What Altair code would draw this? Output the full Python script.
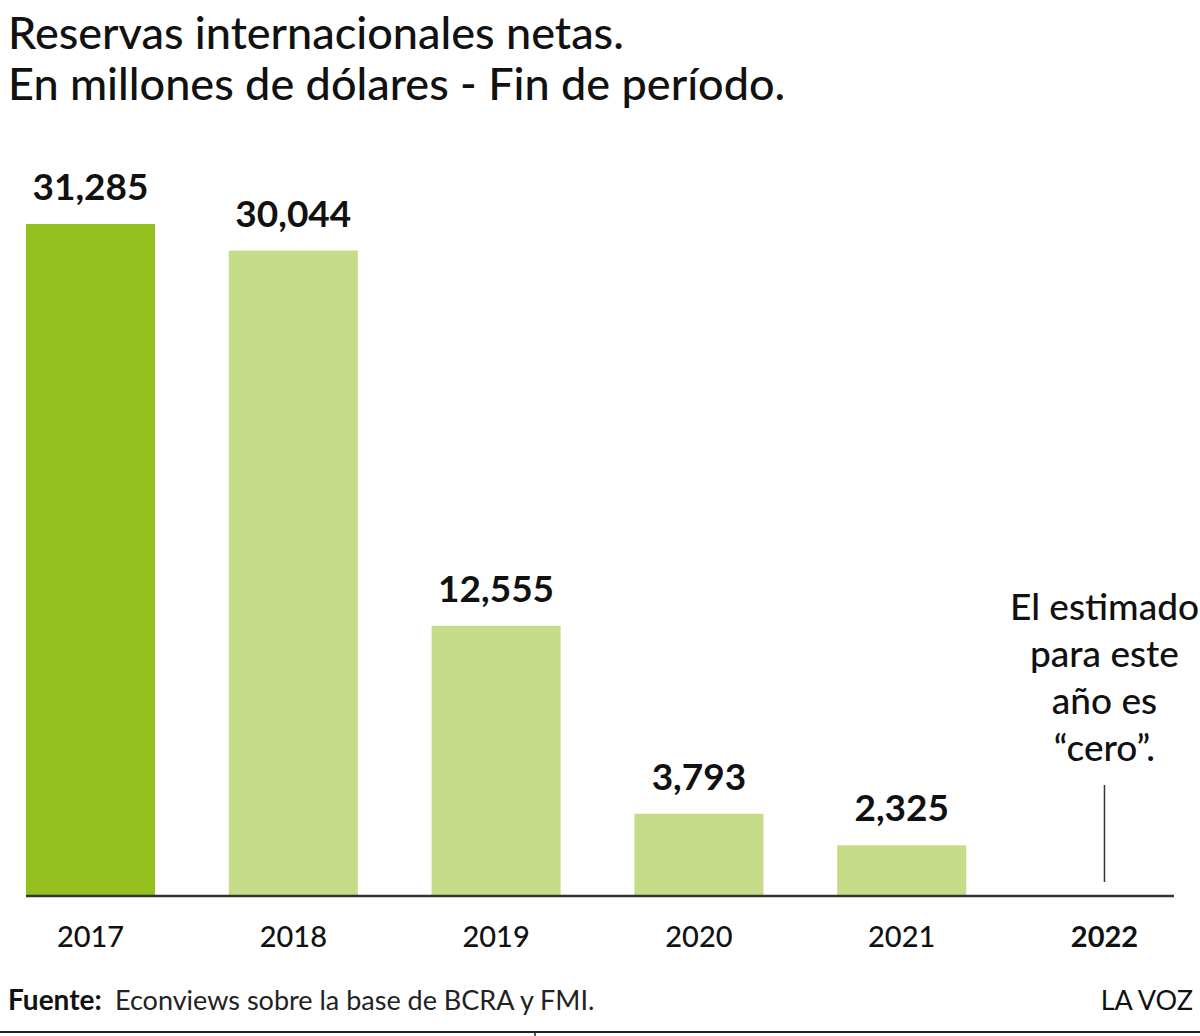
import altair as alt
import pandas as pd

# Net international reserves, millions of US dollars, end of period
years = ["2017", "2018", "2019", "2020", "2021", "2022"]
reserves = [31285, 30044, 12555, 3793, 2325]

title_text = "Reservas internacionales netas.\nEn millones de dólares - Fin de período."
note_text = "El estimado\npara este\naño es\n“cero”."
source_label = "Fuente:"
source_text = "Econviews sobre la base de BCRA y FMI."
brand = "LA VOZ"

W, H = 1143, 745
FONT = "Lato"
DARK_GREEN = "#95c11f"
LIGHT_GREEN = "#c6dc89"
INK = "#111111"

bars_df = pd.DataFrame({"year": years[:5], "value": reserves})
labels_df = pd.DataFrame({"year": years[:5]})
last_df = pd.DataFrame({"year": [years[5]], "note": [note_text]})
one = pd.DataFrame({"k": [0]})

x_enc = alt.X(
    "year:N",
    scale=alt.Scale(domain=years, paddingInner=0.3636, paddingOuter=0),
    axis=None,
)
y_enc = alt.Y("value:Q", scale=alt.Scale(domain=[0, 34735], nice=False), axis=None)

bars = alt.Chart(bars_df).mark_bar().encode(
    x=x_enc,
    y=y_enc,
    color=alt.condition(alt.datum.year == "2017", alt.value(DARK_GREEN), alt.value(LIGHT_GREEN)),
)

values = alt.Chart(bars_df).mark_text(
    font=FONT, fontWeight="bold", fontSize=37, baseline="alphabetic", dy=-24, color=INK
).encode(x=x_enc, y=y_enc, text=alt.Text("value:Q", format=","))

baseline = alt.Chart(one).mark_rule(color="#333333", strokeWidth=2.5).encode(
    x=alt.value(0), x2=alt.value(1148), y=alt.value(H + 1)
)

year_labels = alt.Chart(labels_df).mark_text(
    font=FONT, fontSize=29, fontWeight=500, baseline="alphabetic", color=INK
).encode(x=x_enc, y=alt.value(797), text="year:N")

last_label = alt.Chart(last_df).mark_text(
    font=FONT, fontSize=29, fontWeight="bold", baseline="alphabetic", color=INK
).encode(x=x_enc, y=alt.value(797), text="year:N")

note = alt.Chart(last_df).mark_text(
    font=FONT, fontSize=37, fontWeight=500, baseline="alphabetic",
    lineBreak="\n", lineHeight=47, color=INK,
).encode(x=x_enc, y=alt.value(470), text="note:N")

note_rule = alt.Chart(last_df).mark_rule(color="#333333", strokeWidth=1.5).encode(
    x=x_enc, y=alt.value(635), y2=alt.value(732)
)

title = alt.Chart(one).mark_text(
    font=FONT, fontSize=45, fontWeight=500, align="left", baseline="alphabetic",
    lineBreak="\n", lineHeight=51, color=INK,
).encode(x=alt.value(-18), y=alt.value(-101), text=alt.value(title_text))

source_bold = alt.Chart(one).mark_text(
    font=FONT, fontSize=28, fontWeight="bold", align="left", baseline="alphabetic", color=INK
).encode(x=alt.value(-18), y=alt.value(860), text=alt.value(source_label))

source_rest = alt.Chart(one).mark_text(
    font=FONT, fontSize=27, align="left", baseline="alphabetic", color="#222222"
).encode(x=alt.value(89), y=alt.value(860), text=alt.value(source_text))

brand_text = alt.Chart(one).mark_text(
    font=FONT, fontSize=27, align="right", baseline="alphabetic", color=INK
).encode(x=alt.value(1167), y=alt.value(860), text=alt.value(brand))

bottom_rule = alt.Chart(one).mark_rule(color="#222222", strokeWidth=2).encode(
    x=alt.value(-26), x2=alt.value(1174), y=alt.value(882)
)
bottom_tick = alt.Chart(one).mark_rule(color="#222222", strokeWidth=1.5).encode(
    x=alt.value(509), y=alt.value(882), y2=alt.value(886)
)

chart = alt.layer(
    bars, values, baseline, year_labels, last_label, note, note_rule,
    title, source_bold, source_rest, brand_text, bottom_rule, bottom_tick,
).properties(
    width=W,
    height=H,
    padding={"left": 26, "top": 150, "right": 31, "bottom": 141},
    autosize=alt.AutoSizeParams(type="none"),
    background="white",
).configure_view(stroke=None)

chart.save("out.html", embed_options={"renderer": "svg", "actions": False})
